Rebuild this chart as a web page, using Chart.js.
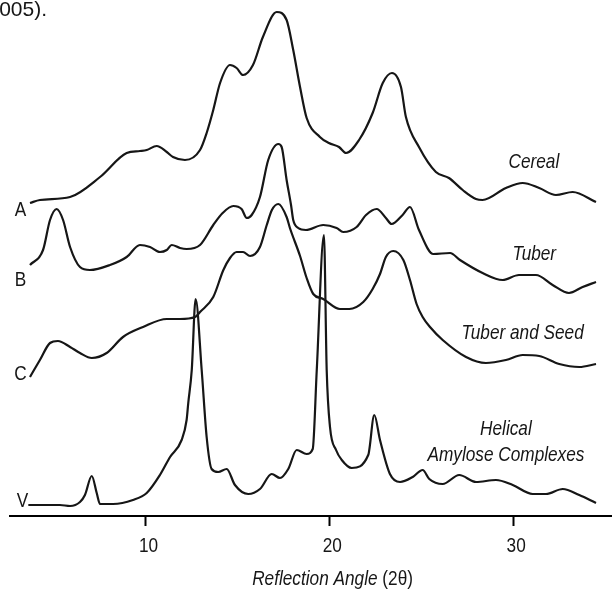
<!DOCTYPE html>
<html>
<head>
<meta charset="utf-8">
<script src="https://cdn.jsdelivr.net/npm/chart.js@4/dist/chart.umd.min.js"></script>
<style>
  html, body { margin: 0; padding: 0; background: #fff; }
  #kutu { width: 612px; height: 589px; }
</style>
</head>
<body>
<div id="kutu"><canvas id="xrd" width="612" height="589"></canvas></div>
<script>
// X-ray diffraction patterns: A, B, C and V type starch
const FONT = '"Liberation Sans", Arial, sans-serif';

const angleTicks = [10, 20, 30];
const curveNames = ["Cereal", "Tuber", "Tuber and Seed", "Helical Amylose Complexes"];
const curveLetters = ["A", "B", "C", "V"];

// [2θ, intensity] (arbitrary units, patterns already stacked)
const cereal = [
  [3.69, 313], [4.23, 316], [5.87, 319], [7.50, 339], [8.95, 363], [9.67, 365], [10.04, 366],
  [10.58, 370], [11.13, 364], [11.47, 359], [12.12, 356], [12.94, 366], [13.30, 383], [13.66, 406],
  [14.03, 433], [14.57, 451], [14.93, 448], [15.28, 441], [15.82, 451], [16.36, 479], [17.11, 504],
  [17.65, 496], [18.01, 466], [18.38, 429], [18.74, 398], [19.46, 379], [19.95, 373], [20.50, 369],
  [20.88, 363], [21.59, 376], [22.33, 403], [22.88, 433], [23.38, 443], [23.87, 429], [24.14, 399],
  [24.85, 369], [25.77, 344], [26.48, 338], [27.23, 326], [27.95, 317], [28.31, 316], [29.58, 328],
  [30.49, 333], [31.39, 328], [32.30, 321], [33.21, 324], [34.48, 314]
];
const tuber = [
  [3.69, 251], [4.40, 266], [4.78, 296], [5.14, 307], [5.49, 296], [5.87, 269], [6.41, 249],
  [6.95, 246], [8.04, 251], [8.95, 259], [9.67, 271], [10.22, 269], [10.76, 264], [11.13, 266],
  [11.40, 271], [11.85, 268], [12.21, 267], [12.94, 271], [13.66, 291], [14.17, 303], [14.75, 310],
  [15.20, 307], [15.48, 298], [15.75, 301], [16.20, 319], [16.65, 356], [17.20, 372], [17.38, 369],
  [17.65, 336], [17.89, 311], [18.01, 296], [18.28, 288], [18.70, 286], [19.64, 291], [20.37, 288],
  [20.73, 284], [21.46, 289], [21.97, 301], [22.55, 307], [23.05, 298], [23.36, 292], [23.96, 301],
  [24.36, 309], [24.85, 286], [25.63, 262], [26.54, 263], [27.08, 256], [28.31, 243], [29.40, 236],
  [30.29, 241], [31.21, 241], [32.12, 231], [33.01, 223], [33.75, 229], [34.48, 234]
];
const tuberSeed = [
  [3.69, 139], [4.23, 156], [4.78, 173], [5.21, 175], [5.87, 169], [6.41, 163], [7.05, 158],
  [7.86, 163], [8.75, 179], [9.84, 189], [11.13, 197], [11.85, 197], [12.67, 199], [12.94, 204],
  [13.66, 219], [14.21, 246], [14.57, 258], [14.93, 264], [15.28, 264], [15.66, 260], [16.20, 269],
  [16.57, 291], [16.85, 306], [17.20, 312], [17.65, 299], [17.83, 288], [18.38, 260], [18.74, 238],
  [19.10, 222], [19.64, 217], [20.55, 207], [21.06, 207], [21.82, 214], [22.33, 227], [22.73, 242],
  [23.05, 259], [23.45, 265], [24.00, 256], [24.36, 236], [24.72, 212], [25.05, 199], [25.45, 189],
  [26.14, 176], [27.41, 159], [28.49, 153], [29.58, 156], [30.49, 161], [31.39, 160], [32.48, 152],
  [33.57, 149], [34.48, 152]
];
const amylose = [
  [3.60, 11], [5.32, 11], [5.87, 10], [6.41, 14], [6.68, 21], [7.05, 40], [7.32, 23], [7.50, 12],
  [8.21, 12], [9.29, 16], [10.04, 23], [10.76, 41], [11.31, 59], [11.94, 76], [12.21, 96],
  [12.30, 113], [12.49, 146], [12.70, 217], [13.03, 146], [13.30, 79], [13.57, 47], [13.93, 44],
  [14.39, 47], [14.84, 31], [15.56, 22], [16.20, 27], [16.84, 42], [17.29, 38], [17.74, 47],
  [18.20, 66], [18.74, 62], [19.07, 67], [19.29, 146], [19.68, 281], [19.83, 146], [20.01, 89],
  [20.34, 66], [20.65, 56], [21.19, 48], [22.09, 61], [22.42, 101], [22.73, 76], [23.27, 42],
  [23.82, 34], [24.51, 39], [25.05, 46], [25.41, 37], [26.14, 32], [27.04, 41], [27.95, 34],
  [29.04, 36], [29.95, 31], [31.03, 22], [31.76, 22], [32.67, 27], [33.57, 21], [34.48, 13]
];

(function () {
  "use strict";

  const seriler = [cereal, tuber, tuberSeed, amylose];
  const DAR = 0.82; // the original lettering is a narrow face

  // text next to the curves, in data units [2θ, intensity]
  const harfYer = [[3.17, 300], [3.17, 230], [3.17, 136], [3.28, 9]];
  const adYer = [[31.10, 348], [31.12, 256], [30.49, 177], [29.58, 55]];

  function darYaz(ctx, metin, x, y, hiza, k) {
    ctx.save();
    ctx.translate(x, y);
    ctx.scale(k || DAR, 1);
    ctx.textAlign = hiza;
    ctx.fillText(metin, 0, 0);
    ctx.restore();
  }

  const yazilar = {
    id: "yazilar",
    afterDraw(chart) {
      const { ctx, scales: { x, y } } = chart;
      const alt = chart.chartArea.bottom;
      ctx.save();
      ctx.fillStyle = "#161616";
      ctx.textBaseline = "alphabetic";

      ctx.font = `21px ${FONT}`;
      curveLetters.forEach((h, i) => {
        darYaz(ctx, h, x.getPixelForValue(harfYer[i][0]), y.getPixelForValue(harfYer[i][1]), "center");
      });

      // tick labels
      angleTicks.forEach(v => darYaz(ctx, String(v), x.getPixelForValue(v) + 2.5, alt + 35.5, "center"));

      ctx.font = `italic 21px ${FONT}`;
      curveNames.forEach((ad, i) => {
        const px = x.getPixelForValue(adYer[i][0]);
        const py = y.getPixelForValue(adYer[i][1]);
        if (ad.startsWith("Helical")) {
          darYaz(ctx, "Helical", px, py - 25.7, "center");
          darYaz(ctx, "Amylose Complexes", px, py, "center");
        } else {
          darYaz(ctx, ad, px, py, "center");
        }
      });

      // axis title, italic + upright part
      const a = "Reflection Angle ";
      const b = "(2θ)";
      ctx.font = `italic 21px ${FONT}`;
      const wa = ctx.measureText(a).width * DAR;
      ctx.font = `21px ${FONT}`;
      const wb = ctx.measureText(b).width * DAR;
      const sol = x.getPixelForValue(20.15) - (wa + wb) / 2;
      const taban = alt + 69;
      ctx.font = `italic 21px ${FONT}`;
      darYaz(ctx, a, sol, taban, "left");
      ctx.font = `21px ${FONT}`;
      darYaz(ctx, b, sol + wa, taban, "left");

      // leftover of the caption above (regular width)
      darYaz(ctx, "005).", 47, 16, "right", 1);
      ctx.restore();
    }
  };

  new Chart(document.getElementById("xrd"), {
    type: "line",
    data: {
      datasets: seriler.map((s, i) => ({
        label: curveNames[i],
        data: s.map(p => ({ x: p[0], y: p[1] })),
        borderColor: "#161616",
        borderWidth: 2.2,
        pointRadius: 0,
        fill: false,
        cubicInterpolationMode: "monotone",
      })),
    },
    options: {
      responsive: false,
      animation: false,
      devicePixelRatio: 1,
      layout: { padding: { left: 10, right: 0, top: 0, bottom: 0 } },
      plugins: { legend: { display: false }, tooltip: { enabled: false } },
      scales: {
        x: {
          type: "linear",
          min: 2.603,
          max: 35.35,
          afterBuildTicks: s => { s.ticks = angleTicks.map(v => ({ value: v })); },
          afterFit: s => { s.height = 73; },
          border: { display: true, color: "#000", width: 2 },
          grid: { display: true, drawOnChartArea: false, drawTicks: true, tickLength: 10, tickWidth: 2, tickColor: "#000" },
          ticks: { display: false },
        },
        y: { display: false, min: 0, max: 516 },
      },
    },
    plugins: [yazilar],
  });
})();
</script>
</body>
</html>
